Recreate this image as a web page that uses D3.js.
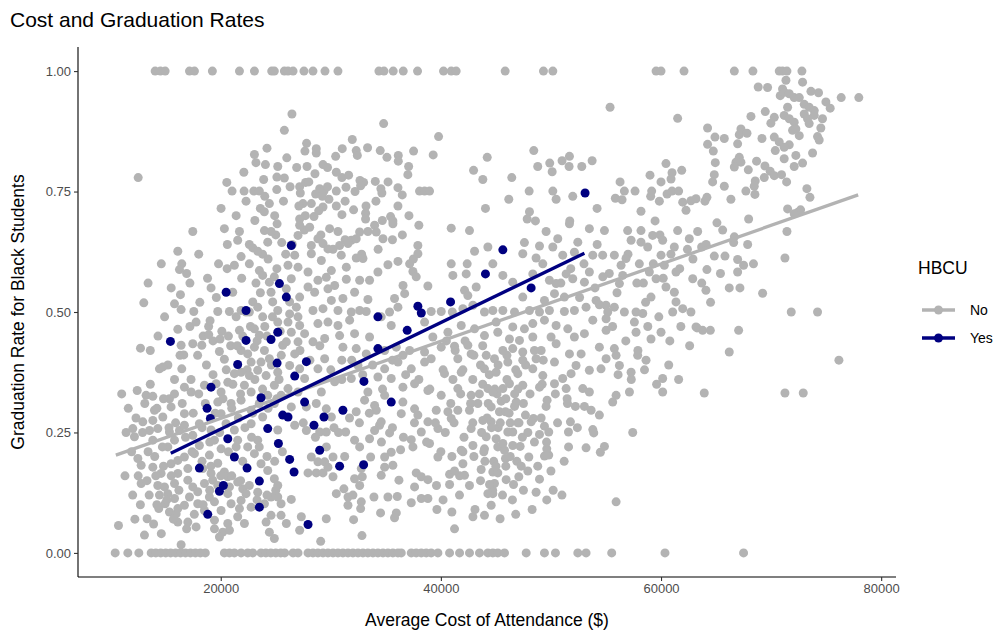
<!DOCTYPE html>
<html>
<head>
<meta charset="utf-8">
<script src="https://cdn.jsdelivr.net/npm/d3@7"></script>
<style>
  body { margin: 0; background: #fff; }
  svg text { font-family: "Liberation Sans", Arial, Helvetica, sans-serif; }
</style>
</head>
<body>
<svg id="chart" width="1007" height="633"></svg>
<script>
// HBCU groups and their colours
const groups = ["No", "Yes"];
const groupColors = ["#b3b3b3", "#000080"];

// Axis ticks
const xTicks = [20000, 40000, 60000, 80000];
const yTicks = [0, 0.25, 0.5, 0.75, 1];

// Linear fits (cost, graduation rate) at each group's cost extremes
const noFit = [[10470, 0.203], [77910, 0.743]];
const yesFit = [[15460, 0.207], [53040, 0.622]];

// Non-HBCU institutions: [average cost of attendance, graduation rate]
const noPoints = [
  // graduation rate 1.00
  [14040,1],[14520,1],[14950,1],[17160,1],[17610,1],[19240,1],[21700,1],[23060,1],[24630,1],[24870,1],[25780,1],
  [26110,1],[26570,1],[27560,1],[28380,1],[29470,1],[30650,1],[34370,1],[34830,1],[35670,1],[36580,1],[37880,1],
  [40240,1],[40940,1],[41390,1],[45840,1],[49320,1],[50170,1],[59550,1],[60000,1],[62090,1],[66660,1],[68350,1],
  [70740,1],[71040,1],[71440,1],[72800,1],
  // graduation rate 0.00
  [10410,0],[11560,0],[12560,0],[13680,0],[14100,0],[14550,0],[15000,0],[15450,0],[15900,0],[16350,0],[16800,0],
  [17250,0],[17700,0],[18150,0],[18600,0],[20330,0],[20790,0],[21240,0],[21850,0],[22450,0],[22910,0],[23660,0],
  [24100,0],[24550,0],[25000,0],[25450,0],[25810,0],[26570,0],[27020,0],[27930,0],[28380,0],[28830,0],[29290,0],
  [29740,0],[30200,0],[30650,0],[31100,0],[31560,0],[32010,0],[32470,0],[32920,0],[33370,0],[33830,0],[34280,0],
  [34740,0],[35190,0],[35640,0],[36100,0],[36400,0],[37310,0],[37760,0],[38220,0],[38670,0],[39120,0],[39730,0],
  [40790,0],[41700,0],[42600,0],[43510,0],[44270,0],[44720,0],[45170,0],[45780,0],[47750,0],[49410,0],[50410,0],
  [52440,0],[53190,0],[55520,0],[60360,0],[67500,0],
  // upper band, low cost
  [25780,0.877],[23060,0.827],[24060,0.806],[25180,0.802],[12500,0.779],[20550,0.769],[23900,0.775],[25780,0.778],
  [21030,0.751],[22120,0.751],[23000,0.751],[23510,0.751],[25090,0.754],[20030,0.715],[23600,0.715],[23960,0.708],
  [24420,0.725],
  // upper band, mid cost
  [26470,0.911],[34800,0.891],[39790,0.864],[31950,0.858],[27650,0.834],[28680,0.839],[28680,0.830],[31040,0.839],
  [30440,0.823],[32310,0.835],[32410,0.825],[33340,0.841],[34490,0.835],[35100,0.821],[36130,0.825],[36130,0.813],
  [37520,0.834],[39300,0.826],[44210,0.821],[27840,0.802],[29290,0.806],[28560,0.787],[37070,0.802],[37000,0.785],
  [42970,0.794],[43810,0.775],[27170,0.760],[27230,0.747],[27710,0.769],[31010,0.779],[31620,0.784],[31380,0.759],
  [30500,0.751],[32650,0.773],[32980,0.769],[32710,0.762],[34040,0.771],[34550,0.756],[34640,0.747],[36100,0.758],
  [36490,0.743],[38060,0.751],[38520,0.751],[38970,0.751],[28620,0.745],[28990,0.756],[29380,0.751],[29830,0.734],
  [29230,0.740],[27470,0.725],[28230,0.725],[29290,0.718],[44050,0.715],[27170,0.693],[27680,0.700],[28470,0.698],
  [31010,0.702],[32070,0.712],[33160,0.705],[33160,0.693],[34680,0.690],[35430,0.698],[35640,0.689],
  [21400,0.70],[22300,0.73],[23100,0.69],[24000,0.74],[24900,0.70],[25700,0.73],[26300,0.76],[27100,0.72],[28000,0.77],
  [28900,0.71],[29700,0.76],[30500,0.72],[22100,0.79],[23200,0.81],[24200,0.84],[25100,0.78],[26000,0.82],[26900,0.80],
  [27800,0.85],[29700,0.80],[30500,0.79],[31300,0.73],[32200,0.75],[33200,0.72],[34100,0.73],[35200,0.77],[36100,0.72],
  [37100,0.70],[38000,0.68],[22600,0.64],[23800,0.62],[25000,0.66],[26500,0.64],[27600,0.67],[29100,0.66],[30200,0.63],
  [31300,0.65],[32800,0.62],[34300,0.63],[35600,0.65],[36500,0.66],[37500,0.61],
  // upper band, higher cost
  [55370,0.925],[61510,0.902],[48440,0.835],[51680,0.823],[51010,0.814],[49890,0.809],[48800,0.802],[50110,0.791],
  [51650,0.802],[52800,0.802],[53740,0.814],[46440,0.779],[48020,0.751],[50170,0.751],[50470,0.734],[51980,0.740],
  [56280,0.770],[56670,0.751],[55850,0.736],[56460,0.733],[57640,0.751],[59000,0.784],[60450,0.808],[61000,0.789],
  [60910,0.776],[61880,0.794],[60000,0.770],[59150,0.751],[59060,0.740],[59850,0.730],[60550,0.745],[61000,0.751],
  [61600,0.751],[61970,0.728],[62720,0.731],[62270,0.711],[46170,0.734],[54190,0.715],[58180,0.709],[48050,0.708],
  [47840,0.693],[48590,0.689],[51710,0.689],[59460,0.689],
  // most expensive institutions
  [72860,0.977],[71350,0.981],[68830,0.967],[69680,0.966],[71040,0.963],[70830,0.949],[71190,0.956],[71650,0.953],
  [72100,0.945],[72560,0.945],[73620,0.958],[74310,0.955],[76370,0.945],[77970,0.945],[74980,0.936],[75370,0.923],
  [71500,0.925],[73010,0.931],[73460,0.925],[73920,0.918],[68170,0.906],[69470,0.916],[70290,0.904],[69980,0.892],
  [71190,0.908],[71650,0.901],[72100,0.894],[73010,0.911],[73310,0.901],[73460,0.891],[73920,0.908],[74670,0.901],
  [74520,0.882],[71950,0.877],[72560,0.866],[72250,0.880],[74220,0.864],[74370,0.857],[64230,0.882],[64900,0.863],
  [65750,0.860],[67260,0.880],[67110,0.868],[67810,0.871],[69170,0.860],[70290,0.863],[70740,0.853],[71650,0.847],
  [71190,0.842],[64230,0.848],[64750,0.834],[66960,0.849],[70380,0.835],[73770,0.830],[72250,0.825],[71190,0.818],
  [72860,0.809],[72100,0.802],[67110,0.821],[66810,0.811],[67260,0.811],[66660,0.801],[68680,0.813],[64930,0.810],
  [67930,0.795],[69440,0.803],[69920,0.792],[70290,0.783],[70950,0.785],[71410,0.770],[69380,0.779],[64840,0.785],
  [64690,0.770],[65750,0.761],[68560,0.772],[68470,0.761],[67710,0.751],[68530,0.744],[73250,0.756],[73530,0.738],
  [63180,0.735],[64170,0.738],[66350,0.734],[63990,0.730],[71500,0.714],[72440,0.707],[72680,0.712],[72100,0.704],
  [67960,0.693],
  // high cost, middle rates
  [63330,0.667],[65080,0.685],[71440,0.667],[66660,0.656],[66600,0.644],[67870,0.640],[63690,0.635],[64840,0.616],
  [65810,0.616],[66960,0.609],[67500,0.597],[66960,0.583],[64170,0.588],[71260,0.612],[64080,0.545],[67170,0.550],
  [69230,0.539],[71830,0.500],[74220,0.500],[63270,0.467],[63780,0.462],[64480,0.462],[67050,0.462],[66200,0.417],
  [76160,0.400],[63930,0.332],[71260,0.332],[72920,0.332],
  [62900,0.61],[63700,0.56],[64500,0.52],[65400,0.58],[66200,0.55],[64100,0.64],[65600,0.67],[68400,0.60],
  // 50k-63k, middle band
  [53000,0.60],[54200,0.64],[55300,0.58],[56000,0.54],[57000,0.62],[57800,0.56],[58600,0.52],[59300,0.60],[60200,0.57],
  [60900,0.62],[61700,0.59],[62400,0.63],[55600,0.47],[56800,0.44],[57900,0.42],[58800,0.47],[59800,0.49],[60800,0.44],
  [61800,0.47],[62600,0.43],[56100,0.37],[57300,0.36],[58500,0.38],[59600,0.35],[60700,0.39],[61600,0.36],[54000,0.55],
  [52600,0.53],[51800,0.59],[50900,0.56],[59900,0.66],[58400,0.56],
  // 45k-60k, lower rates
  [45480,0.315],[46840,0.313],[46690,0.304],[49650,0.317],[49560,0.304],[51470,0.320],[52220,0.304],[53040,0.304],
  [53650,0.296],[54400,0.286],[55610,0.313],[44570,0.303],[45320,0.293],[45870,0.293],[47680,0.286],[48410,0.279],
  [49110,0.280],[48200,0.272],[49410,0.263],[51770,0.272],[44570,0.272],[46990,0.270],[46080,0.251],[46530,0.251],
  [48960,0.246],[49800,0.251],[51590,0.251],[53800,0.256],[53890,0.249],[57430,0.250],[45020,0.237],[45170,0.220],
  [45780,0.213],[45630,0.227],[45870,0.196],[46530,0.223],[47200,0.221],[47990,0.199],[49410,0.201],[49800,0.203],
  [49620,0.216],[53190,0.218],[54490,0.209],[54860,0.221],[44720,0.168],[45170,0.166],[44870,0.144],[45930,0.152],
  [46600,0.142],[47080,0.158],[48960,0.153],[44720,0.123],[48650,0.126],[49620,0.110],[44570,0.099],[48290,0.090],
  [45380,0.071],[55920,0.106],
  [43800,0.35],[44900,0.34],[46000,0.36],[47000,0.34],[48100,0.33],[49200,0.35],[50400,0.33],[51500,0.31],[44200,0.28],
  [45200,0.26],[46300,0.27],[47400,0.24],[48500,0.23],[49600,0.23],[50600,0.27],[51600,0.22],[52400,0.26],[43900,0.21],
  [44800,0.19],[45900,0.18],[46900,0.19],[47900,0.17],[48800,0.18],[50000,0.17],[51200,0.19],[43600,0.15],[44700,0.13],
  [45600,0.12],[46500,0.11],[47500,0.13],[50200,0.13],[51000,0.12],[42600,0.14],[41700,0.16],[43100,0.09],[40200,0.11],
  [39600,0.14],[46800,0.08],
  // 40k-50k, dense middle
  [40500,0.44],[41300,0.42],[42200,0.44],[43000,0.41],[43800,0.43],[40200,0.38],[41100,0.36],[42000,0.38],[42900,0.36],
  [43600,0.39],[44400,0.37],[45200,0.39],[46000,0.41],[46800,0.38],[47700,0.39],[48500,0.42],[49300,0.40],[40900,0.31],
  [41800,0.33],[42700,0.31],[43500,0.33],[44300,0.31],[45100,0.33],[45900,0.32],[46700,0.33],[47500,0.31],[40400,0.25],
  [41200,0.27],[42100,0.24],[42900,0.27],[43700,0.25],[44600,0.26],[45400,0.27],[46200,0.29],[47100,0.27],[47900,0.25],
  [40000,0.21],[41000,0.20],[42000,0.21],[43000,0.20],[44000,0.19],[45000,0.18],[46300,0.20],[47300,0.18],
  // 26k-45k, lower rates
  [26410,0.303],[27780,0.303],[28680,0.310],[29590,0.299],[30050,0.282],[30290,0.260],[28990,0.251],[29590,0.251],
  [27780,0.254],[26720,0.265],[28230,0.199],[28830,0.189],[29440,0.189],[30200,0.199],[31260,0.200],[29740,0.178],
  [27930,0.166],[28680,0.166],[29290,0.166],[30200,0.158],[31350,0.251],[32160,0.234],[32620,0.220],[32310,0.293],
  [33070,0.317],[33980,0.306],[34130,0.296],[34430,0.265],[33980,0.254],[33520,0.237],[34580,0.272],[35340,0.249],
  [36550,0.313],[36400,0.289],[35490,0.209],[36340,0.214],[34890,0.199],[33620,0.199],[32770,0.175],[32860,0.158],
  [32160,0.154],[32620,0.140],[34890,0.178],[35640,0.182],[34580,0.161],[36190,0.151],[31190,0.133],[30500,0.123],
  [31560,0.116],[32010,0.120],[31560,0.099],[32770,0.106],[32710,0.092],[33920,0.116],[35190,0.116],[36040,0.117],
  [34520,0.083],[35950,0.083],[35790,0.073],[32070,0.069],[29590,0.071],[32830,0.036],[29080,0.024],[27170,0.047],
  [27320,0.075],[25960,0.061],[26410,0.111],[37610,0.299],[37910,0.286],[38820,0.272],[37310,0.235],[37460,0.220],
  [38970,0.227],[38220,0.251],[39730,0.258],[39580,0.296],[40640,0.293],[40940,0.279],[41540,0.296],[42600,0.296],
  [43360,0.310],[43810,0.275],[42750,0.258],[44120,0.241],[41850,0.213],[42910,0.223],[43960,0.216],[39730,0.199],
  [37760,0.166],[38220,0.158],[38820,0.152],[37610,0.137],[40790,0.163],[41240,0.170],[42000,0.185],[42150,0.161],
  [40790,0.142],[43660,0.173],[41690,0.120],[44420,0.142],[44270,0.123],[37310,0.104],[38220,0.113],[38820,0.113],
  [39640,0.090],[41000,0.085],[41240,0.050],[42910,0.075],[43960,0.078],
  [27200,0.42],[28100,0.40],[29000,0.43],[30000,0.38],[31000,0.36],[31900,0.40],[32900,0.37],[33800,0.39],[34700,0.34],
  [35600,0.40],[36800,0.37],[38000,0.36],[39000,0.34],[27500,0.27],[28600,0.24],[29600,0.22],[30700,0.25],[31700,0.28],
  [32600,0.27],[33500,0.29],[34600,0.23],[35600,0.26],[36600,0.24],[37600,0.27],[38700,0.23],[39500,0.27],
  // low cost, lower rates
  [12770,0.144],[10710,0.057],[13310,0.071],[13070,0.037],[16400,0.017],[12010,0.258],[12160,0.241],[12920,0.272],
  [13830,0.275],[13530,0.254],[14280,0.258],[13830,0.234],[12470,0.196],[12770,0.182],[13830,0.178],[14580,0.165],
  [14280,0.140],[14890,0.137],[14430,0.120],[14950,0.102],[14370,0.092],[15340,0.085],[15950,0.081],[16100,0.064],
  [17010,0.064],[17760,0.054],[19430,0.050],[20180,0.043],[20790,0.047],[19880,0.033],[15190,0.123],[15800,0.113],
  [16100,0.092],[16700,0.099],[17160,0.116],[17910,0.102],[17010,0.151],[17460,0.137],[17910,0.127],[18970,0.116],
  [19430,0.106],[18520,0.144],[19270,0.151],[16100,0.165],[15800,0.144],[15490,0.185],[16100,0.192],[16700,0.199],
  [17010,0.175],[15190,0.220],[15800,0.234],[16250,0.254],[15340,0.251],[14740,0.282],[13980,0.296],[15490,0.303],
  [15340,0.320],[16700,0.289],[16700,0.265],[17460,0.244],[18060,0.223],[18970,0.203],[19730,0.186],[20330,0.168],
  [20640,0.158],[21540,0.147],[22000,0.133],[22300,0.123],[21850,0.109],[20940,0.102],[21540,0.075],[22150,0.061],
  [21700,0.092],[22760,0.095],[23970,0.102],[24570,0.078],[25480,0.078],[24120,0.064],[24420,0.043],[24870,0.030],
  [25480,0.102],[25180,0.140],[24870,0.154],[24270,0.171],[23660,0.185],[23060,0.206],[23360,0.234],[22450,0.220],
  [21540,0.234],[21240,0.255],[20480,0.268],[20030,0.289],[19730,0.313],[20940,0.310],[21850,0.317],[22760,0.296],
  [22760,0.268],[23810,0.282],[24870,0.310],[25180,0.255],[20030,0.216],[19430,0.234],[19120,0.255],[18060,0.268],
  [17610,0.206],[18370,0.175],[19120,0.165],[19730,0.140],[20640,0.123],[20790,0.137],[20030,0.088],[18520,0.088],
  [19430,0.068],[20640,0.061],[23360,0.126],[24570,0.116],[25180,0.116],
  [11600,0.30],[12300,0.28],[12900,0.25],[13400,0.21],[14000,0.20],[14700,0.22],[15300,0.26],[11900,0.21],[12500,0.16],
  [13300,0.15],[14100,0.16],[14800,0.18],[15500,0.16],[12000,0.12],[12700,0.10],[13500,0.12],[14200,0.10],[15100,0.11],
  [15700,0.07],[13900,0.06],[12200,0.07],[14600,0.04],[11400,0.25],[11000,0.33],[11300,0.16],[16200,0.13],[16900,0.05],
  [17600,0.08],[18400,0.10],[19000,0.13],
  // 13k-26k, dense core
  [17200,0.56],[18100,0.52],[18900,0.47],[19600,0.53],[20100,0.46],[20900,0.43],[21400,0.49],[22000,0.45],[22700,0.47],
  [23300,0.44],[24000,0.47],[24700,0.49],[25400,0.46],[17900,0.41],[18700,0.39],[19300,0.37],[20500,0.38],[21100,0.35],
  [21800,0.33],[22400,0.38],[23100,0.36],[23800,0.34],[24600,0.39],[25300,0.36],[17300,0.36],[18000,0.33],[18600,0.31],
  [19500,0.29],[20200,0.32],[21000,0.30],[21600,0.28],[22200,0.26],[22900,0.29],[23500,0.31],[24300,0.30],[25100,0.32],
  [17500,0.29],[18300,0.26],[19000,0.23],[19900,0.25],[20700,0.21],[21400,0.22],[22000,0.19],[22800,0.24],[23500,0.22],
  [24200,0.20],[24900,0.19],[25600,0.21],[16800,0.24],[17400,0.21],[18300,0.19],[19100,0.18],[20000,0.16],[21000,0.16],
  [21800,0.15],[22600,0.14],[23300,0.11],[24200,0.12],[25000,0.13],[16500,0.31],[15900,0.27],[16300,0.41],[15800,0.36],
  [14800,0.32],[14200,0.30],[13600,0.35],[13100,0.31],
  [15500,0.55],[16900,0.58],[18000,0.62],[18800,0.57],[19800,0.60],[20600,0.64],[21900,0.57],[22600,0.60],[23200,0.56],
  [24300,0.61],[25100,0.59],[25900,0.62],[17200,0.47],[18400,0.45],[19300,0.44],[20700,0.45],[21500,0.43],[22300,0.50],
  [24200,0.45],[25500,0.41],[15200,0.39],[14300,0.45],[13600,0.42],[14900,0.49],[13400,0.56],[14600,0.60],
  // low cost, middle rates
  [17460,0.667],[20330,0.673],[21700,0.667],[21540,0.649],[23970,0.669],[24570,0.667],[25120,0.683],[24270,0.645],
  [25540,0.644],[22910,0.633],[23360,0.626],[21850,0.615],[16100,0.626],[16460,0.600],[16250,0.588],[21240,0.597],
  [20580,0.590],[23510,0.586],[23810,0.576],[24870,0.573],[24420,0.562],[19120,0.550],[16340,0.536],[21090,0.541],
  [23600,0.540],[24570,0.541],[13010,0.519],[15800,0.517],[16400,0.505],[17550,0.501],[19730,0.501],[20790,0.501],
  [21850,0.503],[22910,0.521],[22600,0.500],[23360,0.510],[23810,0.490],[24720,0.521],[25180,0.503],[17760,0.479],
  [19030,0.482],[16100,0.464],[18910,0.453],[19940,0.444],[21700,0.462],[23060,0.465],[23510,0.452],[25180,0.479],
  [25630,0.431],[12710,0.425],[16400,0.431],[17460,0.434],[18280,0.431],[16640,0.411],[19880,0.418],[20330,0.402],
  [21850,0.420],[22450,0.413],[23060,0.427],[23970,0.420],[24420,0.403],[22760,0.396],[23660,0.396],[14430,0.382],
  [14740,0.386],[16460,0.382],[21240,0.372],[21850,0.375],[22600,0.368],[23360,0.379],[24120,0.368],[25180,0.375],
  [20640,0.354],[19580,0.351],[18520,0.348],[16700,0.344],[12410,0.337],[13220,0.327],[13830,0.325],[15800,0.330],
  [17310,0.334],[20030,0.334],[22150,0.348],[22760,0.334],[24870,0.348],[24270,0.327],[25480,0.327],
  // 26k-45k, middle rates
  [27170,0.680],[28080,0.676],[29890,0.673],[30650,0.667],[32620,0.666],[33370,0.667],[33980,0.680],[34130,0.666],
  [35640,0.683],[40940,0.674],[42600,0.669],[27020,0.659],[28830,0.652],[31860,0.649],[32310,0.652],[34740,0.652],
  [28230,0.638],[29290,0.642],[29740,0.631],[30800,0.638],[31560,0.642],[37910,0.638],[37910,0.621],[43060,0.626],
  [44270,0.635],[26720,0.618],[28230,0.621],[29140,0.607],[30950,0.618],[32310,0.612],[32920,0.611],[35190,0.598],
  [36100,0.605],[37160,0.600],[40940,0.600],[42390,0.600],[26110,0.597],[27020,0.593],[27930,0.583],[30050,0.586],
  [31410,0.593],[34280,0.583],[37460,0.584],[37760,0.573],[41090,0.576],[42300,0.579],[26410,0.569],[28830,0.566],
  [29590,0.572],[31410,0.568],[32620,0.566],[33520,0.566],[38820,0.554],[36560,0.555],[36710,0.538],[43210,0.552],
  [42150,0.545],[42450,0.534],[27930,0.552],[29740,0.548],[30350,0.555],[32160,0.541],[28530,0.541],[27170,0.531],
  [30050,0.524],[31100,0.528],[33370,0.526],[35790,0.528],[36100,0.510],[35340,0.500],[28380,0.503],[29290,0.507],
  [30650,0.503],[31860,0.500],[32620,0.503],[33220,0.501],[34580,0.490],[39120,0.501],[40030,0.501],[41040,0.500],
  [42000,0.507],[42910,0.514],[43960,0.500],[26260,0.496],[27020,0.490],[28830,0.476],[29740,0.479],[30650,0.472],
  [31710,0.483],[30800,0.451],[32160,0.455],[33520,0.448],[35490,0.472],[38520,0.479],[40640,0.458],[41850,0.472],
  [43060,0.465],[43960,0.451],[26410,0.458],[27620,0.455],[28380,0.438],[29440,0.445],[31100,0.427],[32310,0.424],
  [33220,0.413],[34890,0.420],[35950,0.427],[36550,0.410],[37160,0.420],[38520,0.417],[39270,0.448],[40030,0.427],
  [41240,0.429],[42450,0.431],[41540,0.403],[42750,0.413],[44120,0.410],[26720,0.413],[29440,0.403],[31000,0.400],
  [32470,0.389],[34890,0.382],[36100,0.396],[37310,0.382],[38520,0.396],[39120,0.403],[40330,0.372],[41850,0.375],
  [43960,0.382],[28830,0.382],[27620,0.362],[30350,0.355],[31860,0.362],[34280,0.365],[35490,0.362],[36550,0.344],
  [37610,0.351],[38820,0.337],[40030,0.327],[41540,0.341],[42750,0.327],[44270,0.341],[29140,0.334],[33370,0.334],
  [34890,0.327],[25960,0.548],[26260,0.521],[26870,0.510],[26110,0.479],[27170,0.472],[25960,0.438],[27020,0.438],
  [26260,0.389],[27170,0.382],[26110,0.341],[27020,0.334],
  // 45k-63k, middle rates
  [49560,0.667],[51680,0.683],[53490,0.673],[54860,0.669],[56970,0.669],[58180,0.669],[59240,0.659],[60150,0.649],
  [61510,0.669],[62570,0.652],[57280,0.649],[58180,0.645],[58790,0.635],[60000,0.618],[61210,0.635],[47590,0.644],
  [48960,0.637],[50170,0.635],[50620,0.652],[52440,0.645],[47440,0.621],[48650,0.612],[49260,0.600],[51070,0.618],
  [52130,0.624],[53800,0.618],[54700,0.618],[55760,0.618],[56820,0.611],[58030,0.600],[58940,0.583],[60300,0.597],
  [61360,0.583],[62880,0.569],[56370,0.597],[56520,0.576],[44720,0.600],[45630,0.576],[46530,0.562],[48350,0.579],
  [49860,0.566],[50470,0.559],[51380,0.579],[51980,0.569],[53040,0.562],[53490,0.583],[54710,0.573],[56220,0.559],
  [59550,0.569],[60450,0.552],[61210,0.541],[59090,0.531],[47440,0.531],[49410,0.524],[50320,0.538],[51220,0.531],
  [54100,0.524],[55000,0.514],[61360,0.521],[61060,0.500],[61970,0.507],[62720,0.500],[63180,0.469],[44720,0.503],
  [45630,0.503],[46690,0.500],[48050,0.503],[48960,0.500],[49860,0.503],[51220,0.501],[52130,0.503],[53190,0.510],
  [54400,0.515],[55160,0.500],[55760,0.510],[56670,0.500],[57730,0.500],[58340,0.497],[45020,0.479],[46530,0.469],
  [47590,0.465],[48350,0.476],[49410,0.483],[50470,0.472],[51530,0.465],[53800,0.483],[55010,0.486],[57580,0.479],
  [45170,0.458],[46230,0.444],[47140,0.441],[48350,0.448],[50010,0.448],[52130,0.448],[53040,0.455],[55010,0.462],
  [57730,0.458],[59090,0.444],[60000,0.458],[45630,0.420],[46530,0.424],[47440,0.417],[49110,0.420],[50470,0.434],
  [51680,0.413],[52740,0.413],[54400,0.427],[55760,0.424],[44870,0.403],[46080,0.396],[47440,0.400],[48650,0.403],
  [50320,0.396],[52280,0.389],[53490,0.379],[55010,0.403],[55920,0.410],[57880,0.410],[58640,0.400],[45020,0.375],
  [46990,0.372],[48350,0.382],[49260,0.368],[51070,0.362],[51830,0.372],[54550,0.382],[56220,0.389],[57280,0.375],
  [46230,0.351],[47440,0.348],[48960,0.344],[50320,0.351],[51380,0.341],[52890,0.341],[53490,0.334],[55920,0.327],
  [57130,0.334],[60150,0.362],[60150,0.334],[44720,0.334],[45630,0.341]
];

// HBCUs: [average cost of attendance, graduation rate]
const yesPoints = [
  [53100,0.747],[26410,0.638],[44050,0.579],[37910,0.512],[38220,0.498],[34280,0.490],[36940,0.462],[34280,0.424],
  [40880,0.521],[27780,0.397],[26720,0.367],[33010,0.356],[25960,0.531],[45630,0.629],[48200,0.550],
  [20490,0.541],[22300,0.503],[15430,0.439],[25180,0.458],[24570,0.443],[22300,0.441],[25120,0.394],[21540,0.391],
  [19120,0.344],[23660,0.322],[25330,0.559],
  [18760,0.300],[19060,0.279],[21240,0.199],[18060,0.176],[22390,0.176],[20240,0.140],[19880,0.128],[23510,0.149],
  [23510,0.095],[18820,0.080],[24270,0.258],[25240,0.227],[20640,0.237],[25630,0.286],
  [27620,0.313],[35490,0.313],[31100,0.296],[26110,0.282],[28470,0.265],[29380,0.282],[28990,0.213],[26260,0.194],
  [26660,0.168],[30800,0.180],[32980,0.183],[27930,0.059]
];

// ---- layout ----
const panel = { left: 78, right: 896, top: 47, bottom: 577 };
const svg = d3.select("#chart");

const allCost = noPoints.concat(yesPoints).map(d => d[0]);
const cExt = d3.extent(allCost);
const cPad = (cExt[1] - cExt[0]) * 0.05;

const x = d3.scaleLinear()
  .domain([cExt[0] - cPad, cExt[1] + cPad])
  .range([panel.left, panel.right]);
const y = d3.scaleLinear()
  .domain([-0.05, 1.05])
  .range([panel.bottom, panel.top]);

const color = d3.scaleOrdinal().domain(groups).range(groupColors);

// ---- points ----
const r = 4.5;
svg.append("g").selectAll("circle")
  .data(noPoints).join("circle")
  .attr("cx", d => x(d[0])).attr("cy", d => y(d[1])).attr("r", r)
  .attr("fill", color("No"));

svg.append("g").selectAll("circle")
  .data(yesPoints).join("circle")
  .attr("cx", d => x(d[0])).attr("cy", d => y(d[1])).attr("r", r)
  .attr("fill", color("Yes"));

// ---- fit lines ----
const line = d3.line().x(d => x(d[0])).y(d => y(d[1]));
svg.append("path").datum(noFit).attr("d", line)
  .attr("fill", "none").attr("stroke", color("No")).attr("stroke-width", 3.3);
svg.append("path").datum(yesFit).attr("d", line)
  .attr("fill", "none").attr("stroke", color("Yes")).attr("stroke-width", 3.3);

// ---- axes ----
const xAxis = svg.append("g")
  .attr("transform", `translate(0,${panel.bottom})`)
  .call(d3.axisBottom(x).tickValues(xTicks).tickFormat(d3.format("d")).tickSize(4).tickSizeOuter(0).tickPadding(3));
const yAxis = svg.append("g")
  .attr("transform", `translate(${panel.left},0)`)
  .call(d3.axisLeft(y).tickValues(yTicks).tickFormat(d3.format(".2f")).tickSize(4).tickSizeOuter(0).tickPadding(3));

[xAxis, yAxis].forEach(a => {
  a.select(".domain").attr("stroke", "#000").attr("stroke-width", 1.1);
  a.selectAll(".tick line").attr("stroke", "#333").attr("stroke-width", 1.1);
  a.selectAll(".tick text").attr("fill", "#4d4d4d").style("font-size", "13px");
});
xAxis.select(".domain").attr("d", `M${panel.left},0H${panel.right}`);
yAxis.select(".domain").attr("d", `M0,${panel.top}V${panel.bottom}`);

// ---- titles ----
svg.append("text")
  .attr("x", (panel.left + panel.right) / 2).attr("y", 626)
  .attr("text-anchor", "middle").style("font-size", "17.5px").attr("fill", "#000")
  .text("Average Cost of Attendance ($)");

svg.append("text")
  .attr("transform", `translate(24,${(panel.top + panel.bottom) / 2}) rotate(-90)`)
  .attr("text-anchor", "middle").style("font-size", "17.5px").attr("fill", "#000")
  .text("Graduation Rate for Black Students");

svg.append("text")
  .attr("x", 10).attr("y", 27)
  .style("font-size", "21px").attr("fill", "#000")
  .text("Cost and Graduation Rates");

// ---- legend ----
const legend = svg.append("g");
legend.append("text")
  .attr("x", 918).attr("y", 274)
  .style("font-size", "17.5px").attr("fill", "#000")
  .text("HBCU");

const keys = legend.selectAll("g.key").data(groups).join("g")
  .attr("class", "key")
  .attr("transform", (d, i) => `translate(0,${310 + i * 28})`);
keys.append("line")
  .attr("x1", 922).attr("x2", 955).attr("y1", 0).attr("y2", 0)
  .attr("stroke", d => color(d)).attr("stroke-width", 3.3);
keys.append("circle")
  .attr("cx", 938.5).attr("cy", 0).attr("r", r)
  .attr("fill", d => color(d));
keys.append("text")
  .attr("x", 970).attr("y", 5)
  .style("font-size", "14px").attr("fill", "#000")
  .text(d => d);
</script>
</body>
</html>
